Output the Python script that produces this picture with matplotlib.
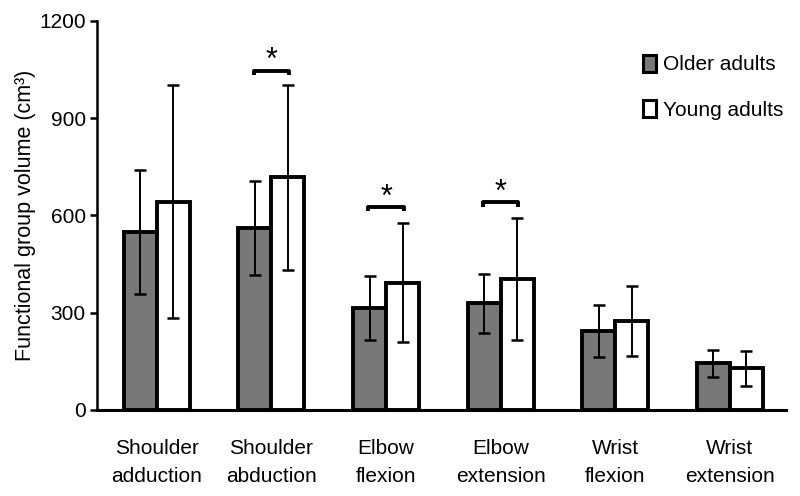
import matplotlib
matplotlib.use("Agg")
import matplotlib.pyplot as plt
from matplotlib.patches import Patch
import numpy as np

plt.rcParams['font.family'] = ['Liberation Sans', 'DejaVu Sans']

categories = ["Shoulder\nadduction", "Shoulder\nabduction", "Elbow\nflexion",
              "Elbow\nextension", "Wrist\nflexion", "Wrist\nextension"]
older_mean = [549, 562, 314, 329, 244, 144]
older_sd = [190, 145, 99, 91, 79, 42]
young_mean = [643, 718, 393, 404, 275, 129]
young_sd = [358, 286, 183, 189, 107, 54]
series_names = ["Older adults", "Young adults"]
# significance markers: (category index, bracket height)
sig_idx = [1, 2, 3]
sig_height = [1047, 627, 641]

fig = plt.figure(figsize=(8, 4.96), dpi=100)
ax = fig.add_axes([0.121, 0.1734, 0.8615, 0.7843])

x = np.arange(len(categories))
w = 0.288
ax.bar(x - w/2, older_mean, w, color='#787878', edgecolor='black', linewidth=2.8, zorder=2)
ax.bar(x + w/2, young_mean, w, color='white', edgecolor='black', linewidth=2.8, zorder=2)
ax.errorbar(x - w/2, older_mean, yerr=older_sd, fmt='none', ecolor='black',
            elinewidth=1.4, capsize=4, capthick=1.8, zorder=3)
ax.errorbar(x + w/2, young_mean, yerr=young_sd, fmt='none', ecolor='black',
            elinewidth=1.4, capsize=4, capthick=1.8, zorder=3)

for i, h in zip(sig_idx, sig_height):
    xs = [i - 0.155, i - 0.155, i + 0.155, i + 0.155]
    ys = [h - 14, h, h, h - 14]
    ax.plot(xs, ys, color='black', lw=2.8, solid_capstyle='butt', zorder=3)
    ax.text(i, h + 4, '*', ha='center', va='baseline', fontsize=22)

ax.set_xlim(-0.524, 5.49)
ax.set_ylim(0, 1200)
ax.set_yticks([0, 300, 600, 900, 1200])
ax.set_xticks(x)
ax.set_xticklabels(categories, fontsize=15, linespacing=1.6)
ax.tick_params(axis='x', length=0, pad=21)
ax.tick_params(axis='y', labelsize=15, length=5, width=1.8, pad=3)
for s in ['top', 'right']:
    ax.spines[s].set_visible(False)
ax.spines['left'].set_linewidth(1.8)
ax.spines['bottom'].set_linewidth(2.2)
ax.set_ylabel('Functional group volume (cm³)', fontsize=15.5, labelpad=2)

handles = [Patch(facecolor='#787878', edgecolor='black', linewidth=2.2),
           Patch(facecolor='white', edgecolor='black', linewidth=2.2)]
ax.legend(handles, series_names, loc='upper left', bbox_to_anchor=(0.780, 0.935),
          frameon=False, fontsize=15, handlelength=0.62, handleheight=0.9,
          handletextpad=0.35, labelspacing=1.22, borderaxespad=0)

fig.savefig('out.png', dpi=100)
